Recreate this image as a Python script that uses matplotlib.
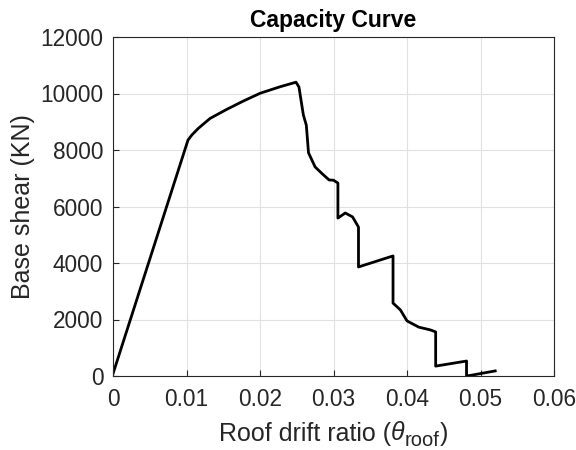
import numpy as np
import matplotlib
matplotlib.use("Agg")
import matplotlib.pyplot as plt

# capacity curve
drift = [0.0, 0.0102, 0.01072, 0.01162, 0.01322, 0.01549, 0.01775, 0.02003,
         0.02275, 0.0249, 0.0253, 0.0259, 0.0263, 0.0266,
         0.0275, 0.0285, 0.0294, 0.0300, 0.0306, 0.0306, 0.0316, 0.0326,
         0.0334, 0.0334, 0.0381, 0.0381, 0.0391, 0.0400, 0.0416, 0.0432,
         0.0439, 0.0439, 0.0481, 0.0481, 0.0486, 0.0520]
shear = [80, 8350, 8530, 8770, 9120, 9440, 9735, 10010,
         10240, 10400, 10230, 9240, 8880, 7900,
         7400, 7150, 6940, 6930, 6830, 5590, 5770, 5630,
         5270, 3860, 4250, 2580, 2340, 1950, 1730, 1630,
         1560, 350, 530, 0, 20, 180]

xticks = [0, 0.01, 0.02, 0.03, 0.04, 0.05, 0.06]
xticklabels = ['0', '0.01', '0.02', '0.03', '0.04', '0.05', '0.06']
yticks = [0, 2000, 4000, 6000, 8000, 10000, 12000]

plt.rcParams['font.family'] = ['Liberation Sans', 'DejaVu Sans']

W, H = 576, 450
fig = plt.figure(figsize=(W / 100, H / 100), dpi=100)
ax = fig.add_axes([113 / W, 74 / H, 441 / W, 339 / H])

ax.plot(drift, shear, color='black', linewidth=2)

ax.set_xlim(0, 0.06)
ax.set_ylim(0, 12000)
ax.set_xticks(xticks)
ax.set_xticklabels(xticklabels)
ax.set_yticks(yticks)

tc = '#262626'
ax.grid(True, color='#e1e1e1', linewidth=0.8)
ax.set_axisbelow(True)
ax.tick_params(direction='in', length=4, colors=tc, labelsize=16.3)
ax.tick_params(axis='x', pad=9)
ax.tick_params(axis='y', pad=7)
for s in ax.spines.values():
    s.set_color(tc)
    s.set_linewidth(0.8)

ax.set_title('Capacity Curve', fontsize=16.5, fontweight='bold', color='black', pad=7)
ax.set_ylabel('Base shear (KN)', fontsize=18, color=tc)
ax.yaxis.set_label_coords(-0.178, 0.5)

# x label with a MATLAB-like subscript, pieces laid out by hand
fig.canvas.draw()
r = fig.canvas.get_renderer()
parts = [('Roof drift ratio (', 18, 'normal', 0),
         ('\u03b8', 18, 'italic', 0),
         ('roof', 14.5, 'normal', -5),
         (')', 18, 'normal', 0)]
texts = []
total = 0
for s, fs, st, dy in parts:
    t = fig.text(0, 0, s, fontsize=fs, style=st, color=tc, va='baseline')
    w = t.get_window_extent(r).width
    texts.append((t, w, dy))
    total += w
x0 = (113 + 441 / 2) - total / 2
base = 9.5
for t, w, dy in texts:
    t.set_position((x0 / W, (base + dy) / H))
    x0 += w

fig.savefig('out.png', dpi=100)
